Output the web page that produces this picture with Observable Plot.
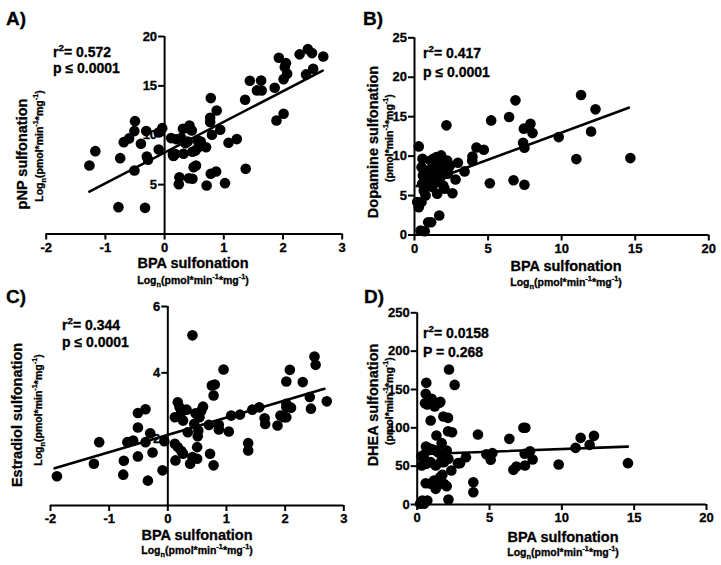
<!DOCTYPE html>
<html><head><meta charset="utf-8">
<script src="https://cdn.jsdelivr.net/npm/d3@7"></script>
<script src="https://cdn.jsdelivr.net/npm/@observablehq/plot@0.6"></script>
<style>
body{margin:0;background:#fff;}
#wrap{position:relative;width:721px;height:565px;overflow:hidden;font-family:"Liberation Sans",Arial,sans-serif;font-weight:bold;color:#000;background:#fff;}
.p{position:absolute;}
.t,.l{-webkit-text-stroke:0.3px #000;}
.t{position:absolute;white-space:nowrap;line-height:1;transform:translate(-50%,-50%);}
.t.r{transform:translate(-50%,-50%) rotate(-90deg);}
.l{position:absolute;white-space:nowrap;line-height:1;transform:translateY(-50%);}
sub,sup{font-size:70%;line-height:0;}
</style></head><body><div id="wrap"></div>
<script>
// ---------- Data ----------
// Panel A: ln BPA sulfonation vs ln pNP sulfonation
const aX = [-1.27,-1.17,-0.75,-0.78,-0.69,-0.60,-0.51,-0.50,-0.51,-0.40,-0.31,-0.30,-0.33,-0.28,-0.10,-0.10,-0.04,0.11,0.14,0.18,0.20,0.25,0.24,0.31,0.32,0.28,0.40,0.42,0.46,0.39,0.41,0.47,0.49,0.53,0.47,0.52,0.57,0.61,0.56,0.70,0.71,1.02,0.78,0.87,0.80,0.94,0.88,0.77,0.77,0.78,1.08,1.22,1.36,1.37,1.44,1.56,1.63,1.64,1.89,1.86,1.93,2.01,2.03,2.05,2.07,2.01,2.28,2.42,2.49,2.39,2.51,2.68,0.15,0.35];
const aY = [6.94,8.39,7.68,2.72,9.3,9.68,6.43,11.43,10.42,9.14,10.42,7.85,2.65,7.52,8.56,10.28,10.72,9.71,8.05,8.1,9.6,5.75,5.05,10.65,8.12,9.71,10.72,10.99,10.49,9.37,5.65,5.59,6.77,6.94,8.33,8.46,8.79,9.37,9.47,8.79,4.91,5.15,6.10,6.33,10.05,10.55,12.51,11.77,11.33,13.76,9.24,9.61,13.6,6.6,15.52,14.54,15.55,14.54,11.5,14.81,17.85,12.18,16.9,17.3,16.23,15.68,18.19,18.72,18.32,16.16,16.74,17.98,7.9,9.2];
const aFitX = [-1.27, 2.67];
const aFitY = [4.3, 16.55];

// Panel B: BPA sulfonation vs dopamine sulfonation
const bX = [0.29,0.18,0.29,0.48,0.41,0.70,0.54,0.48,0.57,0.52,0.63,0.75,0.86,0.93,1.13,1.09,1.13,1.31,1.43,1.54,1.27,1.49,1.65,1.77,1.88,1.68,1.95,2.04,1.81,1.99,2.17,2.22,2.29,2.26,2.40,2.58,2.79,2.95,3.40,3.92,3.94,4.21,4.71,5.12,5.21,6.43,6.73,6.86,7.43,7.38,7.47,7.47,7.88,8.02,9.80,11.0,11.32,12.0,12.3,14.67,0.97,1.2,1.36,1.58,1.7,1.88,0.65,2.1,1.27];
const bY = [11.23,4.17,3.53,4.17,0.57,0.48,9.67,8.6,7.55,6.5,5.65,5.01,6.92,1.62,1.62,9.45,7.77,8.6,6.7,5.22,9.67,9.87,8.4,7.33,9.67,2.47,6.28,5.86,10.09,9.03,13.9,9.45,8.4,7.77,8.82,5.3,7.04,9.16,8.06,9.45,9.96,11.1,10.8,6.57,14.53,14.95,6.95,17.07,13.48,11.7,11.07,6.37,14.11,12.92,12.41,9.62,17.74,13.13,15.93,9.75,8.19,6.07,7.55,6.92,9.03,8.19,7.97,7.77,9.03];
const bFitX = [0.14, 14.56];
const bFitY = [6.2, 16.14];

// Panel C: ln BPA sulfonation vs ln estradiol sulfonation
const cX = [-1.89,-1.26,-1.17,-0.76,-0.75,-0.69,-0.59,-0.51,-0.51,-0.51,-0.38,-0.38,-0.34,-0.30,-0.26,-0.09,-0.06,0.12,0.12,0.13,0.17,0.20,0.23,0.17,0.23,0.26,0.26,0.32,0.34,0.38,0.42,0.42,0.45,0.47,0.50,0.51,0.50,0.54,0.57,0.60,0.52,0.70,0.72,0.75,0.80,0.78,0.78,0.87,0.87,0.95,1.04,1.08,1.23,1.37,1.37,1.44,1.56,1.65,1.66,1.87,1.92,1.98,2.02,2.02,2.02,2.02,2.08,2.10,2.30,2.42,2.44,2.50,2.52,2.71];
const cY = [0.88,1.26,1.91,0.93,1.35,1.91,1.96,1.48,2.35,2.79,2.9,1.91,0.75,2.18,1.6,1.06,1.94,2.66,1.86,1.36,3.11,2.96,2.81,1.76,1.64,1.56,2.56,2.89,2.21,1.26,5.13,1.46,2.46,2.78,1.76,2.09,1.41,2.66,2.86,2.98,2.26,2.43,1.56,3.62,3.65,3.32,1.21,2.43,2.29,4.1,2.23,2.71,2.74,1.88,1.66,2.89,2.96,2.63,2.46,2.41,2.71,2.66,3.74,3.07,2.96,2.66,4.09,2.95,3.72,3.27,2.92,4.49,4.24,3.14];
const cFitX = [-1.93, 2.67];
const cFitY = [1.12, 3.52];

// Panel D: BPA sulfonation vs DHEA sulfonation
const dX = [0.63,0.59,0.54,0.70,1.0,1.21,1.55,1.60,0.93,1.33,1.81,2.13,2.2,2.59,2.13,2.41,1.69,0.61,0.47,0.82,1.04,1.28,1.44,1.62,2.04,0.31,0.63,0.93,1.28,1.62,1.85,2.16,2.36,2.82,2.96,3.37,0.59,0.93,1.16,1.39,1.58,1.74,1.85,2.04,2.16,1.28,0.36,0.47,0.70,0.20,3.88,3.88,4.2,4.78,5.08,5.2,6.37,6.65,6.86,7.34,7.48,7.43,7.45,7.8,7.98,9.78,10.95,11.3,11.92,12.22,14.57,0.28];
const dY = [158.7,144.3,132,130.4,137.8,127.8,132.6,134,109.5,90,114.7,113,176,156,95.6,94.3,80,75.6,64.8,73.4,72,70.4,68.2,66.1,70.4,50.8,53,55.2,50.8,55.2,55.2,59.5,44.3,53.9,53.9,61.7,27.8,27,31.3,24.8,35.6,38.7,27,23.9,6.5,20.4,5.2,0.9,5.2,0.9,29.1,16,91.3,65.6,58.3,67,85.6,45.2,49.5,100,100,66.1,50.8,69.5,58.7,52.2,73.9,86.9,77.8,89.5,53.9,63];
const dFitX = [0.14, 14.56];
const dFitY = [65.5, 75.5];

// Tick values
const ticksLogX = [-2, -1, 0, 1, 2, 3];
const ticksLinX = [0, 5, 10, 15, 20];
const aYTicks = [5, 10, 15, 20];
const bYTicks = [0, 5, 10, 15, 20, 25];
const cYTicks = [2, 4, 6];
const dYTicks = [0, 50, 100, 150, 200, 250];

// Labels
const panelLetters = ["A)", "B)", "C)", "D)"];
const r2Text = ["0.572", "0.417", "0.344", "0.0158"];
const pText = ["p \u2264 0.0001", "p \u2264 0.0001", "p \u2264 0.0001", "P = 0.268"];
const yTitles = ["pNP sulfonation", "Dopamine sulfonation", "Estradiol sulfonation", "DHEA sulfonation"];
const xTitle = "BPA sulfonation";
const unitLog = 'Log<sub>n</sub>(pmol*min<sup>-1</sup>*mg<sup>-1</sup>)';
const unitLin = '(pmol*min<sup>-1</sup>*mg<sup>-1</sup>)';

// ---------- Drawing ----------
const wrap = document.getElementById("wrap");
const font = '"Liberation Sans", Arial, sans-serif';
const tickFont = 13;

function panel(o) {
  const data = o.xs.map((x, i) => ({x, y: o.ys[i]}));
  const fit = o.fitX.map((x, i) => ({x, y: o.fitY[i]}));
  const [x0, x1] = o.xDomain, [y0, y1] = o.yDomain;
  const axisOpts = {tickSize: 6, strokeWidth: 2, label: null, tickFormat: d => String(d), fontSize: tickFont, fontWeight: "bold"};
  const svg = Plot.plot({
    width: o.w, height: o.h,
    marginLeft: o.ml, marginRight: o.mr, marginTop: o.mt, marginBottom: o.mb,
    x: {domain: o.xDomain},
    y: {domain: o.yDomain},
    style: {fontFamily: font, fontSize: tickFont + "px", fontWeight: "bold", color: "black", background: "transparent", overflow: "visible"},
    marks: [
      Plot.ruleY([y0], {x1: x0, x2: x1, strokeWidth: 2}),
      Plot.ruleX([0], {y1: y0, y2: y1, strokeWidth: 2}),
      Plot.axisX({...axisOpts, ticks: o.xTicks, tickPadding: 2.5}),
      o.yMid ? Plot.axisY({...axisOpts, x: 0, ticks: o.yTicks, tickPadding: 1.5})
             : Plot.axisY({...axisOpts, ticks: o.yTicks, tickPadding: 1.5}),
      Plot.dot(data, {x: "x", y: "y", r: 5.3, fill: "black"}),
      Plot.line(fit, {x: "x", y: "y", strokeWidth: 2.6})
    ]
  });
  svg.querySelectorAll("text").forEach(t => {
    t.style.fontFamily = font;
    t.style.fontSize = tickFont + "px";
    t.style.fontWeight = "700";
    t.style.fill = "#000";
    t.style.stroke = "#000";
    t.style.strokeWidth = "0.3px";
  });
  const d = document.createElement("div");
  d.className = "p";
  d.style.left = o.left + "px"; d.style.top = o.top + "px";
  d.appendChild(svg);
  wrap.appendChild(d);
}

panel({left: 0, top: 0, w: 360, h: 290, ml: 45.7, mr: 18.3, mt: 36, mb: 56.5,
  xs: aX, ys: aY, fitX: aFitX, fitY: aFitY, xDomain: [-2, 3], yDomain: [0, 20], xTicks: ticksLogX, yTicks: aYTicks, yMid: true});
panel({left: 360, top: 0, w: 361, h: 290, ml: 54, mr: 12.7, mt: 37.3, mb: 55.5,
  xs: bX, ys: bY, fitX: bFitX, fitY: bFitY, xDomain: [0, 20], yDomain: [0, 25], xTicks: ticksLinX, yTicks: bYTicks, yMid: false});
panel({left: 0, top: 285, w: 360, h: 280, ml: 50, mr: 16.7, mt: 21, mb: 60,
  xs: cX, ys: cY, fitX: cFitX, fitY: cFitY, xDomain: [-2, 3], yDomain: [0, 6], xTicks: ticksLogX, yTicks: cYTicks, yMid: true});
panel({left: 360, top: 285, w: 361, h: 280, ml: 56.7, mr: 15, mt: 27.3, mb: 61,
  xs: dX, ys: dY, fitX: dFitX, fitY: dFitY, xDomain: [0, 20], yDomain: [0, 250], xTicks: ticksLinX, yTicks: dYTicks, yMid: false});

function txt(html, cx, cy, size, cls) {
  const e = document.createElement("div");
  e.className = cls;
  e.style.left = cx + "px"; e.style.top = cy + "px";
  e.style.fontSize = size + "px";
  e.innerHTML = html;
  wrap.appendChild(e);
}
// Panel letters
const letterPos = [[6, 18], [363, 18], [6, 296], [364, 296]];
letterPos.forEach((p, i) => txt(panelLetters[i], p[0], p[1], 19, "l"));
// Statistics
const statPos = [[53, 52, 68], [423, 53, 72], [62, 325, 342], [423, 333, 352]];
statPos.forEach((p, i) => {
  txt('r<sup>2</sup>= ' + r2Text[i], p[0], p[1], 14, "l");
  txt(pText[i], p[0], p[2], 14, "l");
});
// X titles
const xTitlePos = [[193, 263, 280], [566, 266, 282], [197, 535, 550], [563, 537, 552]];
xTitlePos.forEach(p => {
  txt(xTitle, p[0], p[1], 14.5, "t");
  txt(unitLog, p[0], p[2], 10.5, "t");
});
// Y titles
const yTitlePos = [[22, 39, 154, 146], [373, 389, 142, 138], [17, 38, 415, 410], [373, 389, 405, 401]];
yTitlePos.forEach((p, i) => {
  txt(yTitles[i], p[0], p[2], 14.5, "t r");
  txt(i % 2 === 0 ? unitLog : unitLin, p[1], p[3], 10.5, "t r");
});
</script></body></html>
